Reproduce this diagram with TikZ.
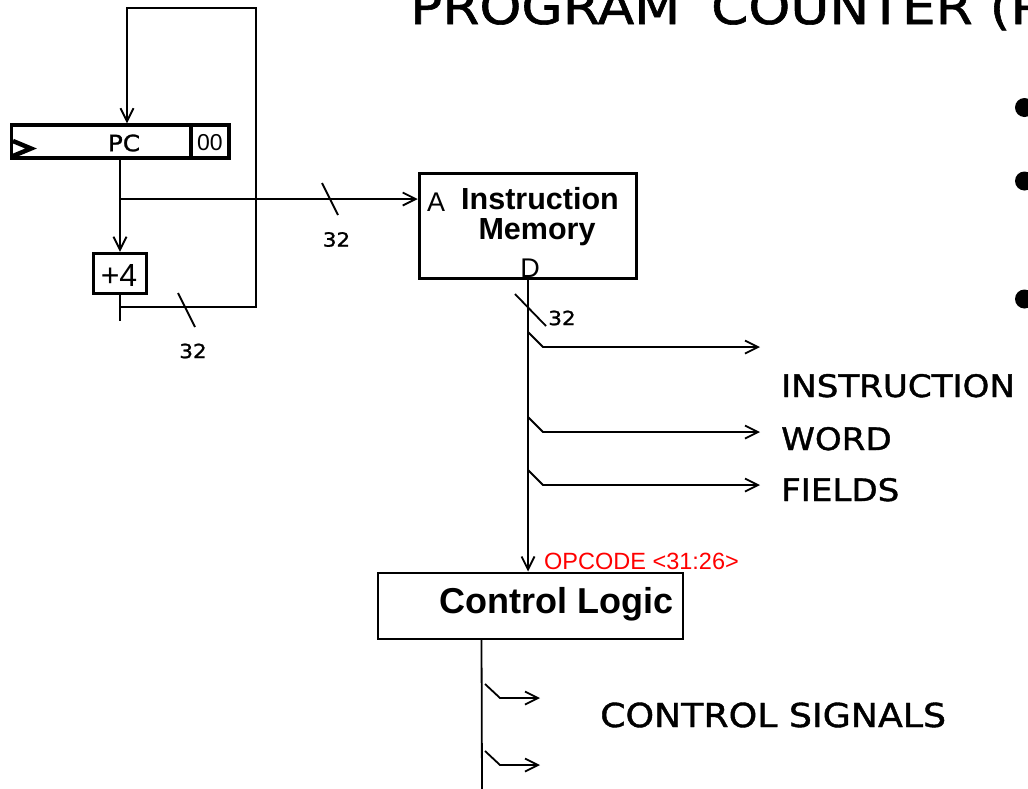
\documentclass[tikz,border=0pt]{standalone}
\usepackage{fontspec}
\setmainfont{Liberation Sans}
\newfontfamily\comic[FakeStretch=1.1,FakeBold=1.2]{DejaVu Sans}
\usetikzlibrary{arrows.meta,calc}
\begin{document}
\begin{tikzpicture}[x=1pt,y=-1pt,
  wire/.style={line width=1.8pt},
  arr/.style={wire,-{Straight Barb[length=13pt,width=13pt]}},
  regbox/.style={draw,line width=3.5pt,rectangle,inner sep=0pt},
  thinbox/.style={draw,line width=2pt,rectangle,inner sep=0pt},
  hand/.style={font=\comic\fontsize{#1}{#1}\selectfont,inner sep=0pt},
  arial/.style={font=\fontsize{#1}{#1}\selectfont,inner sep=0pt},
  ariabold/.style={font=\bfseries\fontsize{#1}{#1}\selectfont,inner sep=0pt},
  slash/.style={line width=1.8pt}
]
\useasboundingbox (0,0) rectangle (1028,788);
\clip (0,0) rectangle (1028,788);

% title and bullets
\node[hand=48.5,anchor=base west] (title) at (410,24) {PROGRAM\hspace{14pt} COUNTER (P};
\fill (1024.5,107.5) circle (9.5);
\fill (1024.5,181) circle (9.5);
\fill (1024.5,299) circle (9.5);

% PC register
\node[regbox,minimum width=217pt,minimum height=33pt] (pc) at (120,141.5) {};
\node[regbox,minimum width=38pt,minimum height=33pt] (zz) at (210,141.5) {};
\node[arial=23] (zzt) at (210,143) {00};
\node[hand=22.5] (pct) at (124,143) {PC};
\draw[line width=4.5pt,line join=miter,miter limit=3] (13,141) -- (31,148.5) -- (13,156);

% +4 adder
\node[regbox,minimum width=53pt,minimum height=40pt] (add) at (120,273.5) {};
\node[arial=32] (addt) at (119,275) {+4};

% Instruction memory
\node[regbox,minimum width=217pt,minimum height=105pt] (im) at (528,226) {};
\node[arial=27] (ima) at (436,202) {A};
\node[ariabold=30.5] (imi) at (540,199) {Instruction};
\node[ariabold=30.5] (imm) at (537,232) {Memory};
\node[arial=27] (imd) at (530,268) {D};

% Control logic
\node[thinbox,minimum width=305pt,minimum height=66pt] (cl) at (530,605.5) {};
\node[ariabold=36,anchor=east] (clt) at (674,604) {Control Logic};
\node[arial=23.5,text=red,anchor=base west] (opc) at (544,569) {OPCODE <31:26>};

% feedback loop
\coordinate (addout) at ($(add.south)+(0,26)$);
\coordinate (loopstart) at ($(add.south)+(0,12)$);
\draw[wire] (add.south) -- (addout);
\draw[arr] (loopstart) -| (256,8) -| ($(pc.north)+(7,0)$);
\draw[arr] (pc.south) -- (add.north);
\draw[slash] (178,293) -- (195,327);
\node[hand=19.5] (l32b) at (193,351) {32};

% PC to instruction memory
\coordinate (br) at (120,199);
\draw[arr] (br) -- (im.west |- br);
\draw[slash] (322,183) -- (338,215);
\node[hand=19.5] (l32a) at (336.5,239.5) {32};

% memory data to control
\draw[arr] (im.south) -- (im.south |- cl.north);
\draw[slash] (515,294) -- (546,326);
\node[hand=19.5] (l32c) at (562,318) {32};

% instruction word fields
\foreach \yy/\nm in {347/fa,432/fb,485/fc}{
  \coordinate (\nm s) at (528,\yy-15);
  \coordinate (\nm e) at (760,\yy);
  \draw[arr] (\nm s) -- (543,\yy) -- (\nm e);
}
\node[hand=31,anchor=base west] (iw1) at (781,397) {INSTRUCTION};
\node[hand=31,anchor=base west] (iw2) at (781,450) {WORD};
\node[hand=31,anchor=base west] (iw3) at (781,501) {FIELDS};

% control signals
\coordinate (clo) at ($(cl.south west)+(105,0)$);
\coordinate (clend) at (482,790);
\draw[wire] (clo) -- (clend);
\foreach \yy/\nm in {698/ca,765/cb}{
  \coordinate (\nm s) at (485,\yy-14);
  \coordinate (\nm e) at (540,\yy);
  \draw[arr] (\nm s) -- (500,\yy) -- (\nm e);
}
\node[hand=33,anchor=base west] (cs) at (600,727) {CONTROL SIGNALS};
\end{tikzpicture}
\end{document}
